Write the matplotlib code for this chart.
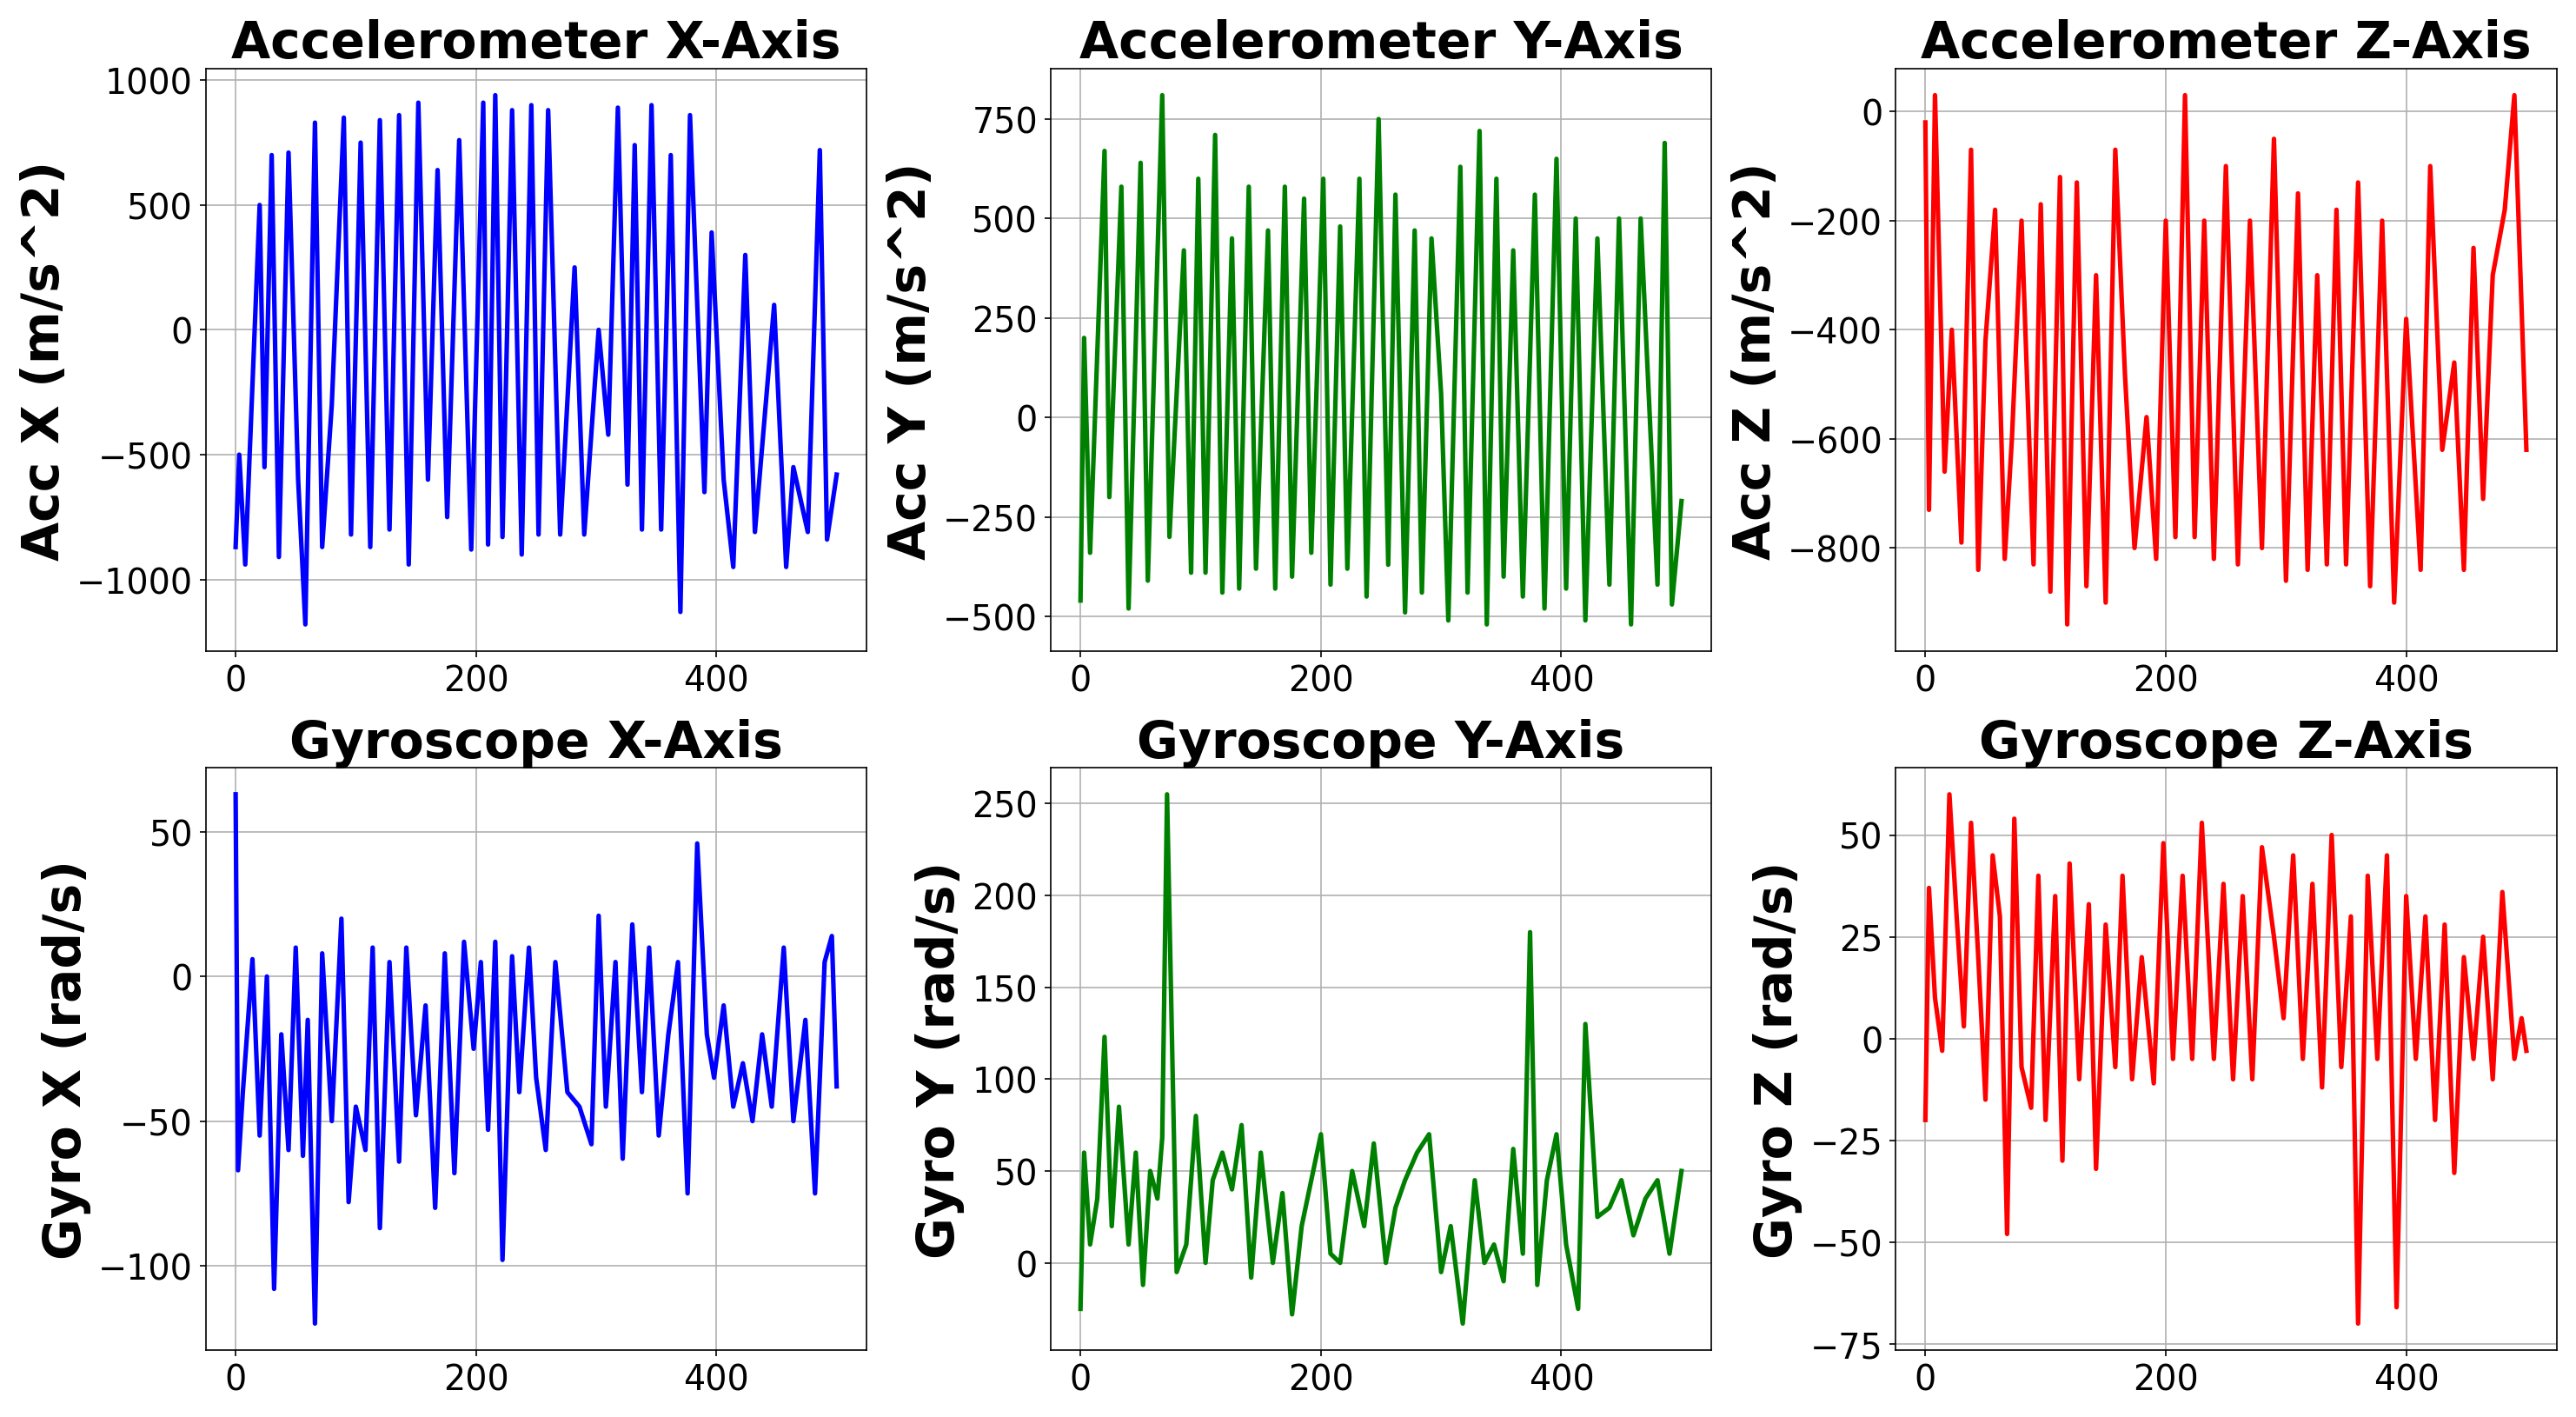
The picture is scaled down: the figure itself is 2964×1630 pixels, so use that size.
import matplotlib
matplotlib.use("Agg")
import matplotlib.pyplot as plt
from matplotlib.ticker import MultipleLocator

accx_x = [0,3,8,20,24,30,36,44,52,58,66,72,80,90,96,104,112,120,128,136,144,152,160,168,176,186,196,206,210,216,222,230,238,246,252,260,270,282,290,302,310,318,326,332,338,346,354,362,370,378,390,396,406,414,424,432,448,458,464,476,486,492,500]
accx_y = [-870,-500,-940,500,-550,700,-910,710,-600,-1180,830,-870,-300,850,-820,750,-870,840,-800,860,-940,910,-600,640,-750,760,-880,910,-860,940,-830,880,-900,900,-820,880,-820,250,-820,0,-420,890,-620,740,-800,900,-800,700,-1130,860,-650,390,-600,-950,300,-810,100,-950,-550,-810,720,-840,-580]
accy_x = [0,3,8,20,24,34,40,50,56,68,74,86,92,98,104,112,118,126,132,140,146,156,162,170,176,186,192,202,208,216,222,232,238,248,256,262,270,278,284,292,300,306,316,322,332,338,346,352,360,368,378,386,396,404,412,420,430,440,448,458,466,480,486,492,500]
accy_y = [-460,200,-340,670,-200,580,-480,640,-410,810,-300,420,-390,600,-390,710,-440,450,-430,580,-380,470,-430,580,-400,550,-340,600,-420,480,-380,600,-450,750,-370,560,-490,470,-440,450,60,-510,630,-440,720,-520,600,-400,420,-450,560,-480,650,-430,500,-510,450,-420,500,-520,500,-420,690,-470,-210]
accz_x = [0,3,8,16,22,30,38,44,50,58,66,72,80,90,96,104,112,118,126,134,142,150,158,166,174,184,192,200,208,216,224,232,240,250,260,270,280,290,300,310,318,326,334,342,350,360,370,380,390,400,412,420,430,440,448,456,464,472,482,490,500]
accz_y = [-20,-730,30,-660,-400,-790,-70,-840,-420,-180,-820,-600,-200,-830,-170,-880,-120,-940,-130,-870,-300,-900,-70,-480,-800,-560,-820,-200,-780,30,-780,-200,-820,-100,-830,-200,-800,-50,-860,-150,-840,-300,-830,-180,-830,-130,-870,-200,-900,-380,-840,-100,-620,-460,-840,-250,-710,-300,-180,30,-620]
gyrox_x = [0,2,6,14,20,26,32,38,44,50,56,60,66,72,80,88,94,100,108,114,120,128,136,142,150,158,166,174,182,190,198,204,210,216,222,230,236,244,250,258,266,276,286,296,302,308,316,322,330,338,344,352,360,368,376,384,392,398,406,414,422,430,438,446,456,464,474,482,490,496,500]
gyrox_y = [63,-67,-40,6,-55,0,-108,-20,-60,10,-62,-15,-120,8,-50,20,-78,-45,-60,10,-87,5,-64,10,-48,-10,-80,8,-68,12,-25,5,-53,12,-98,7,-40,10,-35,-60,5,-40,-45,-58,21,-45,5,-63,18,-40,10,-55,-20,5,-75,46,-20,-35,-10,-45,-30,-50,-20,-45,10,-50,-15,-75,5,14,-38]
gyroy_x = [0,3,8,14,20,26,32,40,46,52,58,64,68,72,80,88,96,104,110,118,126,134,142,150,160,168,176,184,192,200,208,216,226,236,244,254,262,270,280,290,300,308,318,328,336,344,352,360,368,374,380,388,396,404,414,420,430,440,450,460,470,480,490,500]
gyroy_y = [-25,60,10,35,123,20,85,10,60,-12,50,35,68,255,-5,10,80,0,45,60,40,75,-8,60,0,38,-28,20,45,70,5,0,50,20,65,0,30,45,60,70,-5,20,-33,45,0,10,-10,62,5,180,-12,45,70,10,-25,130,25,30,45,15,35,45,5,50]
gyroz_x = [0,3,8,14,20,26,32,38,44,50,56,62,68,74,80,88,94,100,108,114,120,128,136,142,150,158,164,172,180,190,198,206,214,222,230,240,248,256,264,272,280,290,298,306,314,322,330,338,346,354,360,368,376,384,392,400,408,416,424,432,440,448,456,464,472,480,490,496,500]
gyroz_y = [-20,37,10,-3,60,30,3,53,20,-15,45,30,-48,54,-7,-17,40,-20,35,-30,43,-10,33,-32,28,-7,40,-10,20,-11,48,-5,40,-5,53,-5,38,-10,35,-10,47,25,5,45,-5,38,-12,50,-7,30,-70,40,-5,45,-66,35,-5,30,-20,28,-33,20,-5,25,-10,36,-5,5,-3]

def trim(a, b):
    n = min(len(a), len(b)); return a[:n], b[:n]

panels = [
    (accx_x, accx_y, 'blue', 'Accelerometer X-Axis', 'Acc X (m/s^2)', 500),
    (accy_x, accy_y, 'green', 'Accelerometer Y-Axis', 'Acc Y (m/s^2)', 250),
    (accz_x, accz_y, 'red', 'Accelerometer Z-Axis', 'Acc Z (m/s^2)', 200),
    (gyrox_x, gyrox_y, 'blue', 'Gyroscope X-Axis', 'Gyro X (rad/s)', 50),
    (gyroy_x, gyroy_y, 'green', 'Gyroscope Y-Axis', 'Gyro Y (rad/s)', 50),
    (gyroz_x, gyroz_y, 'red', 'Gyroscope Z-Axis', 'Gyro Z (rad/s)', 25),
]

fig, axes = plt.subplots(2, 3, figsize=(19.76, 10.873), dpi=150)
for ax, (x, y, c, t, yl, step) in zip(axes.flat, panels):
    x, y = trim(x, y)
    ax.plot(x, y, color=c, linewidth=2.5)
    ax.set_title(t, fontsize=28, fontweight='bold')
    ax.set_ylabel(yl, fontsize=28, fontweight='bold')
    ax.tick_params(labelsize=19)
    ax.yaxis.set_major_locator(MultipleLocator(step))
    ax.grid(True)
    ax.set_xticks([0, 200, 400])
plt.tight_layout()
fig.savefig('out.png', dpi=150)
